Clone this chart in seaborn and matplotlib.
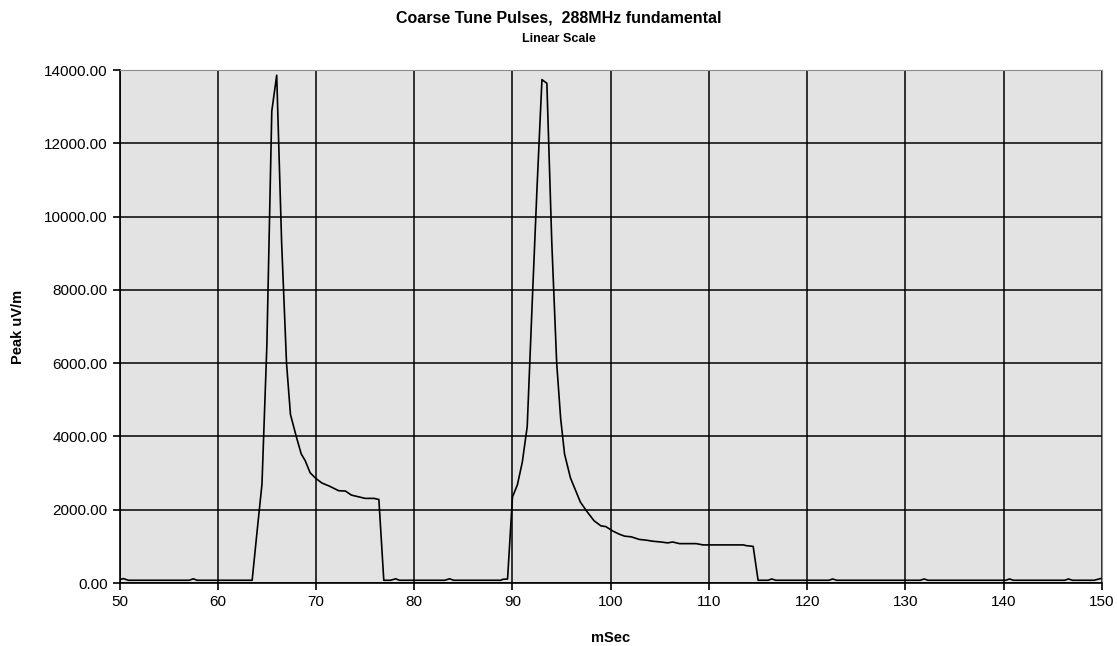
import pandas as pd
import matplotlib
matplotlib.use("Agg")
import matplotlib.pyplot as plt
import seaborn as sns
from matplotlib.ticker import FormatStrFormatter

# breakpoints of the trace (mSec, Peak uV/m)
msec = [50.0, 50.4, 50.9, 57.1, 57.5, 57.9, 63.5,
        64.0, 64.5, 65.0, 65.5, 66.0, 66.5, 67.0, 67.4, 68.0, 68.5, 68.9, 69.4,
        70.0, 70.6, 71.4, 72.3, 73.0, 73.6, 74.3, 75.0, 75.9, 76.4, 76.9,
        77.6, 78.1, 78.5, 83.1, 83.6, 84.0, 88.8, 89.0, 89.5,
        90.0, 90.5, 91.0, 91.5, 92.0, 92.5, 93.0, 93.5, 94.0, 94.5, 94.9,
        95.3, 95.9, 96.9, 97.5, 98.3, 99.0, 99.5, 100.2, 100.9, 101.4, 102.1,
        102.9, 103.6, 104.3, 105.1, 105.8, 106.3, 107.0, 108.7, 109.4, 113.5,
        113.8, 114.5, 115.0, 116.0, 116.4, 116.8, 122.2, 122.6, 123.0,
        131.5, 131.9, 132.3, 140.2, 140.6, 141.0, 146.2, 146.6, 147.0,
        149.2, 150.0]
peak = [95, 120, 75, 75, 115, 75, 75,
        1400, 2700, 6500, 12880, 13860, 9300, 6000, 4600, 3990, 3520, 3340, 3010,
        2850, 2730, 2640, 2520, 2510, 2400, 2355, 2310, 2310, 2280, 75,
        75, 115, 75, 75, 115, 75, 75, 100, 110,
        2350, 2680, 3300, 4270, 7600, 10800, 13740, 13640, 9300, 6000, 4500,
        3520, 2870, 2215, 1980, 1700, 1560, 1540, 1420, 1330, 1280, 1260,
        1190, 1170, 1140, 1120, 1095, 1120, 1075, 1075, 1040, 1040,
        1020, 1000, 75, 75, 110, 75, 75, 110, 75,
        75, 110, 75, 75, 110, 75, 75, 110, 75,
        75, 130]

x_ticks = list(range(50, 151, 10))
y_ticks = list(range(0, 14001, 2000))

df = pd.DataFrame({"mSec": msec, "Peak uV/m": peak})

sns.set_style("ticks", {"axes.facecolor": "#e3e3e3", "text.color": "black",
                        "axes.labelcolor": "black", "xtick.color": "black",
                        "ytick.color": "black"})
plt.rcParams["font.family"] = ["Liberation Sans", "DejaVu Sans"]

fig = plt.figure(figsize=(11.17, 6.46), dpi=100)
ax = fig.add_axes([0.107, 0.0975, 0.8795, 0.794])

sns.lineplot(data=df, x="mSec", y="Peak uV/m", color="black", linewidth=1.2, ax=ax)

ax.set_xlim(50, 150)
ax.set_ylim(0, 14000)
ax.set_xticks(x_ticks)
ax.set_yticks(y_ticks)
ax.yaxis.set_major_formatter(FormatStrFormatter("%.2f"))
ax.grid(True, color="black", linewidth=1.1)
ax.set_axisbelow(True)
ax.tick_params(direction="out", length=5, width=1.2, labelsize=11, colors="black")

for side in ["top", "right"]:
    ax.spines[side].set_visible(True)
    ax.spines[side].set_color("#8c8c8c")
for side in ["left", "bottom"]:
    ax.spines[side].set_color("black")
    ax.spines[side].set_linewidth(1.2)

ax.set_xlabel("mSec", fontsize=10.5, fontweight="bold", labelpad=16)
ax.set_ylabel("Peak uV/m", fontsize=10.5, fontweight="bold", labelpad=14)

fig.text(0.5, 0.972, "Coarse Tune Pulses,  288MHz fundamental", ha="center", va="center",
         fontsize=11.5, fontweight="bold")
fig.text(0.5, 0.94, "Linear Scale", ha="center", va="center", fontsize=9, fontweight="bold")

fig.savefig("out.png", dpi=100)
